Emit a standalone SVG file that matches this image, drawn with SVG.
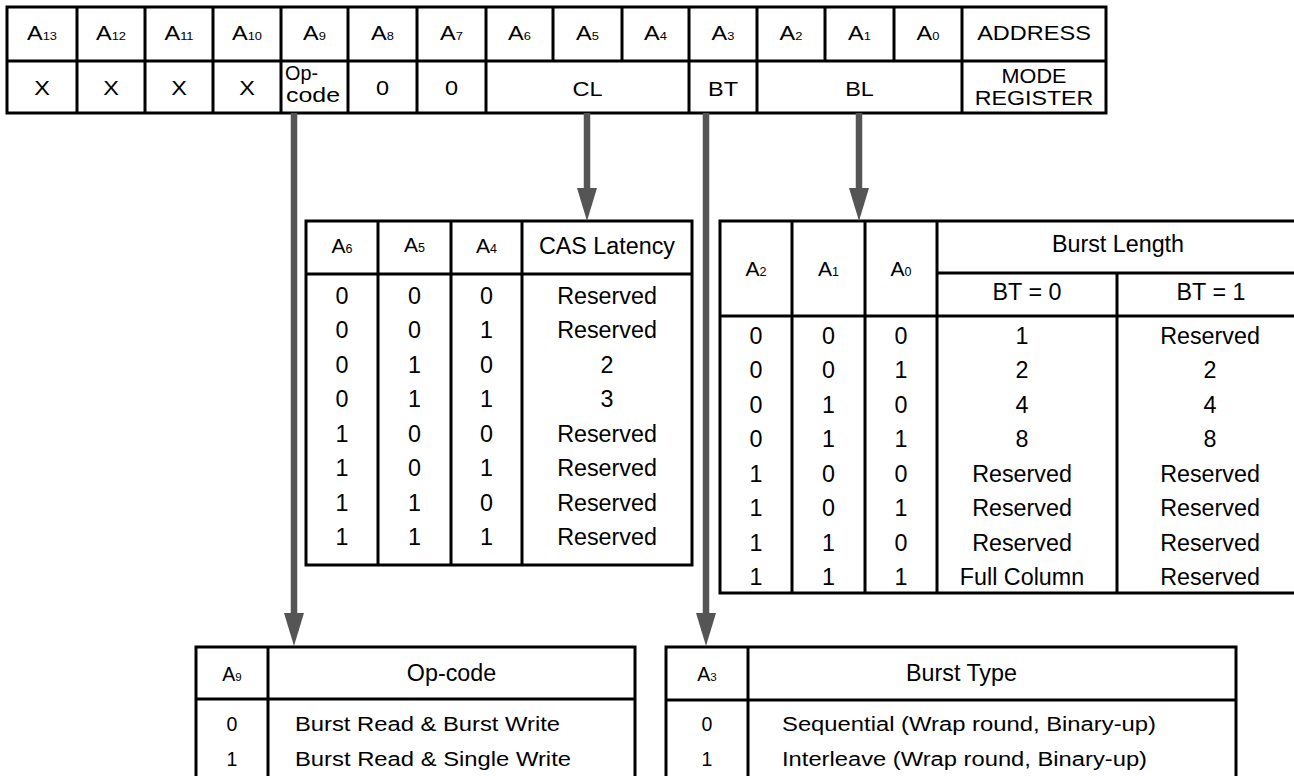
<svg xmlns="http://www.w3.org/2000/svg" width="1294" height="776" viewBox="0 0 1294 776">
<style>
.t{font-family:"Liberation Sans",Arial,Helvetica,sans-serif;fill:#000;text-anchor:middle}
.r{font-size:21px}
.tb{font-size:23.3px}
.h{font-size:21px}
.hs{font-size:19.5px}
.s{font-size:11.5px}
.s2{font-size:12.5px}
.bd{font-size:19.5px}
.st{text-anchor:start}
.ln{fill:none;stroke:#000;stroke-width:3}
.ar{stroke:#555;stroke-width:6.5;fill:none}
</style>
<defs>
<marker id="ah" viewBox="0 0 33 20" refX="3" refY="10" markerWidth="33" markerHeight="20" markerUnits="userSpaceOnUse" orient="auto">
<path d="M0,0 L33,10 L0,20 z" fill="#555"/>
</marker>
</defs>
<rect width="1294" height="776" fill="#fff"/>

<g id="register">
<rect class="ln" x="7" y="7" width="1099" height="106"/>
<path class="ln" d="M7,61H1106 M77,7V113 M145,7V113 M213,7V113 M281,7V113 M348,7V113 M417,7V113 M486,7V113 M553,7V61 M622,7V61 M689,7V113 M757,7V113 M825,7V61 M894,7V61 M962,7V113"/>
<text class="t r" transform="translate(42 40) scale(1.12 1)">A<tspan class="s">13</tspan></text>
<text class="t r" transform="translate(111 40) scale(1.12 1)">A<tspan class="s">12</tspan></text>
<text class="t r" transform="translate(179 40) scale(1.12 1)">A<tspan class="s">11</tspan></text>
<text class="t r" transform="translate(247 40) scale(1.12 1)">A<tspan class="s">10</tspan></text>
<text class="t r" transform="translate(314.5 40) scale(1.12 1)">A<tspan class="s">9</tspan></text>
<text class="t r" transform="translate(382.5 40) scale(1.12 1)">A<tspan class="s">8</tspan></text>
<text class="t r" transform="translate(451.5 40) scale(1.12 1)">A<tspan class="s">7</tspan></text>
<text class="t r" transform="translate(519.5 40) scale(1.12 1)">A<tspan class="s">6</tspan></text>
<text class="t r" transform="translate(587.5 40) scale(1.12 1)">A<tspan class="s">5</tspan></text>
<text class="t r" transform="translate(655.5 40) scale(1.12 1)">A<tspan class="s">4</tspan></text>
<text class="t r" transform="translate(723 40) scale(1.12 1)">A<tspan class="s">3</tspan></text>
<text class="t r" transform="translate(791 40) scale(1.12 1)">A<tspan class="s">2</tspan></text>
<text class="t r" transform="translate(859.5 40) scale(1.12 1)">A<tspan class="s">1</tspan></text>
<text class="t r" transform="translate(928 40) scale(1.12 1)">A<tspan class="s">0</tspan></text>
<text class="t r" transform="translate(1034 40) scale(1.12 1)">ADDRESS</text>
<text class="t r" transform="translate(42 95) scale(1.12 1)">X</text>
<text class="t r" transform="translate(111 95) scale(1.12 1)">X</text>
<text class="t r" transform="translate(179 95) scale(1.12 1)">X</text>
<text class="t r" transform="translate(247 95) scale(1.12 1)">X</text>
<text class="t r st" x="285" y="80" style="font-size:20px" textLength="33" lengthAdjust="spacingAndGlyphs">Op-</text>
<text class="t r st" x="286" y="101.5" style="font-size:20px" textLength="54" lengthAdjust="spacingAndGlyphs">code</text>
<text class="t r" transform="translate(382.5 95) scale(1.12 1)">0</text>
<text class="t r" transform="translate(451.5 95) scale(1.12 1)">0</text>
<text class="t r" transform="translate(587.5 96) scale(1.12 1)">CL</text>
<text class="t r" transform="translate(723 96) scale(1.12 1)">BT</text>
<text class="t r" transform="translate(859.5 96) scale(1.12 1)">BL</text>
<text class="t r" style="font-size:20px" transform="translate(1034 82.5) scale(1.08 1)">MODE</text>
<text class="t r" style="font-size:20px" transform="translate(1034 104.5) scale(1.16 1)">REGISTER</text>
</g>

<g id="cas-latency">
<rect class="ln" x="306" y="221" width="386" height="344"/>
<path class="ln" d="M306,274H692 M378,221V565 M451,221V565 M522,221V565"/>
<text class="t h" x="342" y="253">A<tspan class="s2">6</tspan></text>
<text class="t h" x="414.5" y="252">A<tspan class="s2">5</tspan></text>
<text class="t h" x="486.5" y="253">A<tspan class="s2">4</tspan></text>
<text class="t tb" x="607" y="254">CAS Latency</text>
<g class="t tb">
<text x="342" y="303.5">0</text><text x="414.5" y="303.5">0</text><text x="486.5" y="303.5">0</text><text x="607" y="303.5">Reserved</text>
<text x="342" y="338">0</text><text x="414.5" y="338">0</text><text x="486.5" y="338">1</text><text x="607" y="338">Reserved</text>
<text x="342" y="372.5">0</text><text x="414.5" y="372.5">1</text><text x="486.5" y="372.5">0</text><text x="607" y="372.5">2</text>
<text x="342" y="407">0</text><text x="414.5" y="407">1</text><text x="486.5" y="407">1</text><text x="607" y="407">3</text>
<text x="342" y="441.5">1</text><text x="414.5" y="441.5">0</text><text x="486.5" y="441.5">0</text><text x="607" y="441.5">Reserved</text>
<text x="342" y="476">1</text><text x="414.5" y="476">0</text><text x="486.5" y="476">1</text><text x="607" y="476">Reserved</text>
<text x="342" y="510.5">1</text><text x="414.5" y="510.5">1</text><text x="486.5" y="510.5">0</text><text x="607" y="510.5">Reserved</text>
<text x="342" y="545">1</text><text x="414.5" y="545">1</text><text x="486.5" y="545">1</text><text x="607" y="545">Reserved</text>
</g>
</g>

<g id="burst-length">
<rect class="ln" x="720" y="221" width="586" height="372"/>
<path class="ln" d="M720,316H1306 M937,273H1306 M792,221V593 M865,221V593 M937,221V593 M1117,273V593"/>
<text class="t h" x="756" y="276">A<tspan class="s2">2</tspan></text>
<text class="t h" x="828.5" y="276">A<tspan class="s2">1</tspan></text>
<text class="t h" x="901" y="276">A<tspan class="s2">0</tspan></text>
<text class="t tb" x="1118" y="252">Burst Length</text>
<text class="t tb" x="1027" y="300">BT = 0</text>
<text class="t tb" x="1211" y="300">BT = 1</text>
<g class="t tb">
<text x="756" y="343.5">0</text><text x="828.5" y="343.5">0</text><text x="901" y="343.5">0</text><text x="1022" y="343.5">1</text><text x="1210" y="343.5">Reserved</text>
<text x="756" y="378">0</text><text x="828.5" y="378">0</text><text x="901" y="378">1</text><text x="1022" y="378">2</text><text x="1210" y="378">2</text>
<text x="756" y="412.5">0</text><text x="828.5" y="412.5">1</text><text x="901" y="412.5">0</text><text x="1022" y="412.5">4</text><text x="1210" y="412.5">4</text>
<text x="756" y="447">0</text><text x="828.5" y="447">1</text><text x="901" y="447">1</text><text x="1022" y="447">8</text><text x="1210" y="447">8</text>
<text x="756" y="481.5">1</text><text x="828.5" y="481.5">0</text><text x="901" y="481.5">0</text><text x="1022" y="481.5">Reserved</text><text x="1210" y="481.5">Reserved</text>
<text x="756" y="516">1</text><text x="828.5" y="516">0</text><text x="901" y="516">1</text><text x="1022" y="516">Reserved</text><text x="1210" y="516">Reserved</text>
<text x="756" y="550.5">1</text><text x="828.5" y="550.5">1</text><text x="901" y="550.5">0</text><text x="1022" y="550.5">Reserved</text><text x="1210" y="550.5">Reserved</text>
<text x="756" y="585">1</text><text x="828.5" y="585">1</text><text x="901" y="585">1</text><text x="1022" y="585">Full Column</text><text x="1210" y="585">Reserved</text>
</g>
</g>

<g id="op-code">
<rect class="ln" x="196" y="647" width="439" height="160"/>
<path class="ln" d="M196,699H635 M268,647V807"/>
<text class="t hs" x="232" y="681">A<tspan class="s">9</tspan></text>
<text class="t tb" x="451.5" y="681">Op-code</text>
<text class="t bd" x="232" y="731">0</text>
<text class="t bd" x="232" y="766">1</text>
<text class="t bd st" x="295" y="731" textLength="265" lengthAdjust="spacingAndGlyphs">Burst Read &amp; Burst Write</text>
<text class="t bd st" x="295" y="766" textLength="276" lengthAdjust="spacingAndGlyphs">Burst Read &amp; Single Write</text>
</g>

<g id="burst-type">
<rect class="ln" x="666" y="647" width="570" height="160"/>
<path class="ln" d="M666,700H1236 M748,647V807"/>
<text class="t hs" x="707" y="681">A<tspan class="s">3</tspan></text>
<text class="t tb st" x="906" y="681">Burst Type</text>
<text class="t bd" x="707" y="730.5">0</text>
<text class="t bd" x="707" y="766">1</text>
<text class="t bd st" x="782" y="730.5" textLength="374" lengthAdjust="spacingAndGlyphs">Sequential (Wrap round, Binary-up)</text>
<text class="t bd st" x="782" y="766" textLength="365" lengthAdjust="spacingAndGlyphs">Interleave (Wrap round, Binary-up)</text>
</g>

<g id="connectors">
<line class="ar" x1="294" y1="113" x2="294" y2="616" marker-end="url(#ah)"/>
<line class="ar" x1="587" y1="113" x2="587" y2="191" marker-end="url(#ah)"/>
<line class="ar" x1="706" y1="113" x2="706" y2="616" marker-end="url(#ah)"/>
<line class="ar" x1="859" y1="113" x2="859" y2="191" marker-end="url(#ah)"/>
</g>
</svg>
